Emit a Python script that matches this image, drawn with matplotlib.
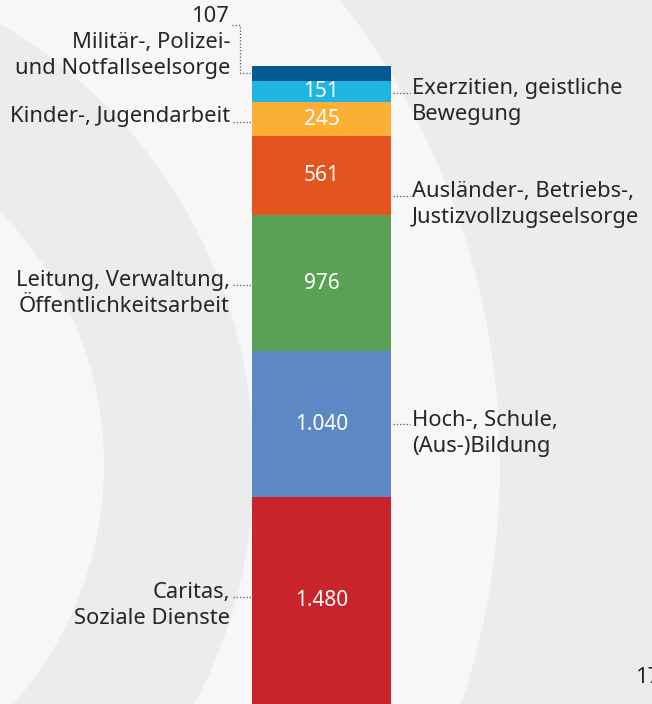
import matplotlib
matplotlib.use("Agg")
import matplotlib.pyplot as plt
from matplotlib.patches import Circle
import numpy as np

# ---------------- DATA ----------------
categories = [
    "Caritas,\nSoziale Dienste",
    "Hoch-, Schule,\n(Aus-)Bildung",
    "Leitung, Verwaltung,\nÖffentlichkeitsarbeit",
    "Ausländer-, Betriebs-,\nJustizvollzugseelsorge",
    "Kinder-, Jugendarbeit",
    "Exerzitien, geistliche\nBewegung",
    "Militär-, Polizei-\nund Notfallseelsorge",
]
values = [1480, 1040, 976, 561, 245, 151, 107]
colors = ["#c9242b", "#5e88c4", "#5aa055", "#e4541f", "#fcaf35", "#1fb5e3", "#035a93"]

# label side and pixel layout: (side, first baseline y, connector y)
label_side = ["left", "right", "left", "right", "left", "right", "left"]
label_base = [598, 426, 286, 197, 122, 94, 48]
label_link = [597, 424, 285, 196, 122, 93, 73]

W, H = 652, 704
bar_left, bar_right, bar_top = 252, 391, 66
line_h = 26
fs = 15.8
txt_color = "#262626"
font = ["Noto Sans", "DejaVu Sans"]

fig = plt.figure(figsize=(W / 100, H / 100), dpi=100)

# ---------------- BACKGROUND (pixel coords) ----------------
bg = fig.add_axes([0, 0, 1, 1])
bg.set_xlim(0, W)
bg.set_ylim(H, 0)
bg.axis("off")
bg.add_patch(plt.Rectangle((0, 0), W, H, color="#ebeced", zorder=0))
center = (-256, 465)
for r, c in [(756, "#f7f7f7"), (510, "#ebeced"), (360, "#f6f7f7")]:
    bg.add_patch(Circle(center, r, color=c, zorder=1, lw=0))

# ---------------- STACKED BAR ----------------
total = sum(values)
ax = fig.add_axes([0, 0, 1, 1])
ax.patch.set_alpha(0)
ax.axis("off")
ax.set_xlim(0, W)
ax.set_ylim(0, total * H / (H - bar_top))
bottoms = np.concatenate([[0], np.cumsum(values)[:-1]])
bar_x = (bar_left + bar_right) / 2
ax.bar(bar_x, values, bottom=bottoms, width=bar_right - bar_left,
       color=colors, linewidth=0, zorder=3)

for v, b in zip(values[:-1], bottoms[:-1]):
    ax.text(bar_x, b + v / 2, f"{v:,}".replace(",", "."), color="white",
            ha="center", va="center", fontsize=15, family=font, zorder=4)

# ---------------- LABELS ----------------
dots = dict(color="#555555", lw=0.9, linestyle=(0, (1, 1.6)), zorder=5)
for name, side, yb, yl in zip(categories, label_side, label_base, label_link):
    lines = name.split("\n")
    if side == "left":
        x, ha = 230, "right"
    else:
        x, ha = 412, "left"
    for i, ln in enumerate(lines):
        bg.text(x, yb + i * line_h, ln, ha=ha, va="baseline", fontsize=fs,
                color=txt_color, family=font, zorder=5)
    if name.startswith("Militär"):
        continue
    if side == "left":
        bg.plot([233, bar_left - 1], [yl, yl], **dots)
    else:
        bg.plot([bar_right + 2, 410], [yl, yl], **dots)

# small top segment: value above its label with a bracket connector
bg.text(230, 22, f"{values[-1]}", ha="right", va="baseline", fontsize=fs,
        color=txt_color, family=font, zorder=5)
bg.plot([232, 240, 240, bar_left - 1], [25, 25, 73, 73], **dots)

# page number (cut at the edge, as in the source page)
bg.text(636, 683, "17", ha="left", va="baseline", fontsize=fs,
        color=txt_color, family=font, zorder=5)

fig.savefig("out.png", dpi=100)
